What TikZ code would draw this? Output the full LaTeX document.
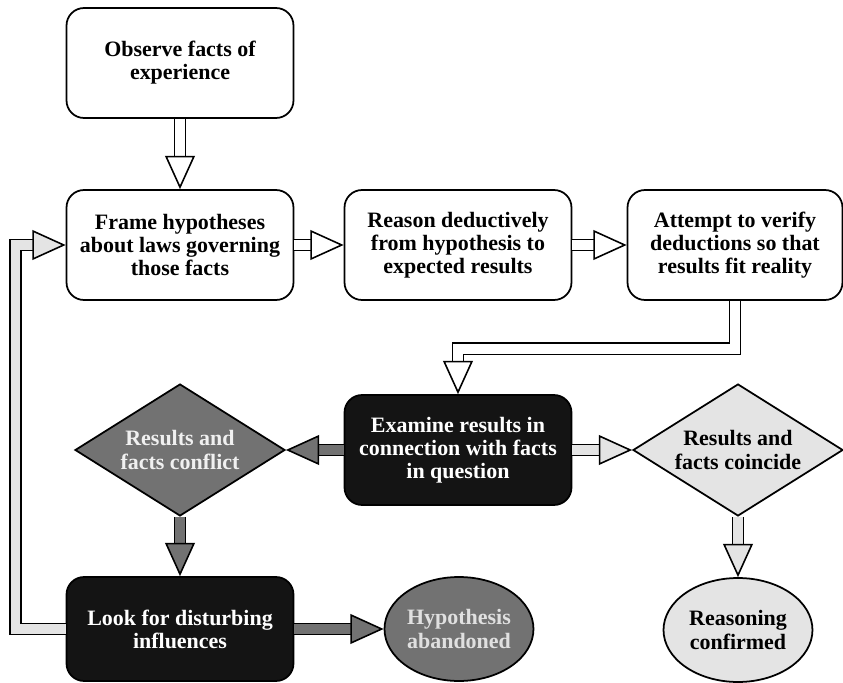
\documentclass[tikz,border=0pt]{standalone}
\usepackage{fontspec}
\setmainfont{Liberation Serif}
\usetikzlibrary{arrows.meta,shapes.geometric}

\definecolor{darkfill}{HTML}{141414}
\definecolor{midgray}{HTML}{727272}
\definecolor{lightgray}{HTML}{E4E4E4}

\begin{document}
\begin{tikzpicture}[
	x = 0.02cm, y = -0.02cm,
	every node/.style = {align = center, line width = 1pt, font = \fontsize{12.5}{13.2}\selectfont\bfseries},
	plainbox/.style = {draw, rounded corners = 0.35cm, minimum width = 4.54cm, minimum height = 2.2cm, fill = white},
	darkbox/.style = {plainbox, fill = darkfill, text = white},
	gate/.style = {diamond, draw, aspect = 1.6, minimum width = 4.2cm, minimum height = 2.64cm, inner sep = -6pt},
	outcome/.style = {ellipse, draw, minimum width = 2.98cm, minimum height = 2.08cm, inner sep = 0pt},
	fat/.style = {line width = 0.9pt, double = #1, double distance = 5.5pt,
		-{Triangle[length = 19pt, width = 17pt, line width = 0.9pt, fill = #1]}}
	]
	\useasboundingbox (0,0) rectangle (843,683);
	\node[plainbox] (observe) at (180,63) {Observe facts of\\experience};
	\node[plainbox] (frame) at (180,245) {Frame hypotheses\\about laws governing\\those facts};
	\node[plainbox] (reason) at (458,245) {Reason deductively\\from hypothesis to\\expected results};
	\node[plainbox, minimum width = 4.3cm] (attempt) at (735,245) {Attempt to verify\\deductions so that\\results fit reality};
	\node[darkbox] (examine) at (458,450) {Examine results in\\connection with facts\\in question};
	\node[gate, fill = midgray, text = white!94!black] (conflict) at (180,450) {Results and\\facts conflict};
	\node[gate, fill = lightgray] (coincide) at (738,450) {Results and\\facts coincide};
	\node[darkbox, minimum height = 2.08cm] (look) at (180,629) {Look for disturbing\\influences};
	\node[outcome, fill = midgray, text = white!88!black] (abandoned) at (459,629) {Hypothesis\\abandoned};
	\node[outcome, fill = lightgray] (confirmed) at (738,630) {Reasoning\\confirmed};

	\draw[fat = white] (observe) -- (frame);
	\draw[fat = white] (frame) -- (reason);
	\draw[fat = white] (reason) -- (attempt);
	\draw[fat = white] (attempt.south) -- ++(0,48) -| (examine.north);
	\draw[fat = midgray] (examine) -- (conflict);
	\draw[fat = lightgray] (examine) -- (coincide);
	\draw[fat = midgray] (conflict) -- (look);
	\draw[fat = midgray] (look) -- (abandoned);
	\draw[fat = lightgray] (coincide) -- (confirmed);
	\draw[fat = lightgray] (look.west) -- ++(-50,0) |- (frame.west);
\end{tikzpicture}
\end{document}
